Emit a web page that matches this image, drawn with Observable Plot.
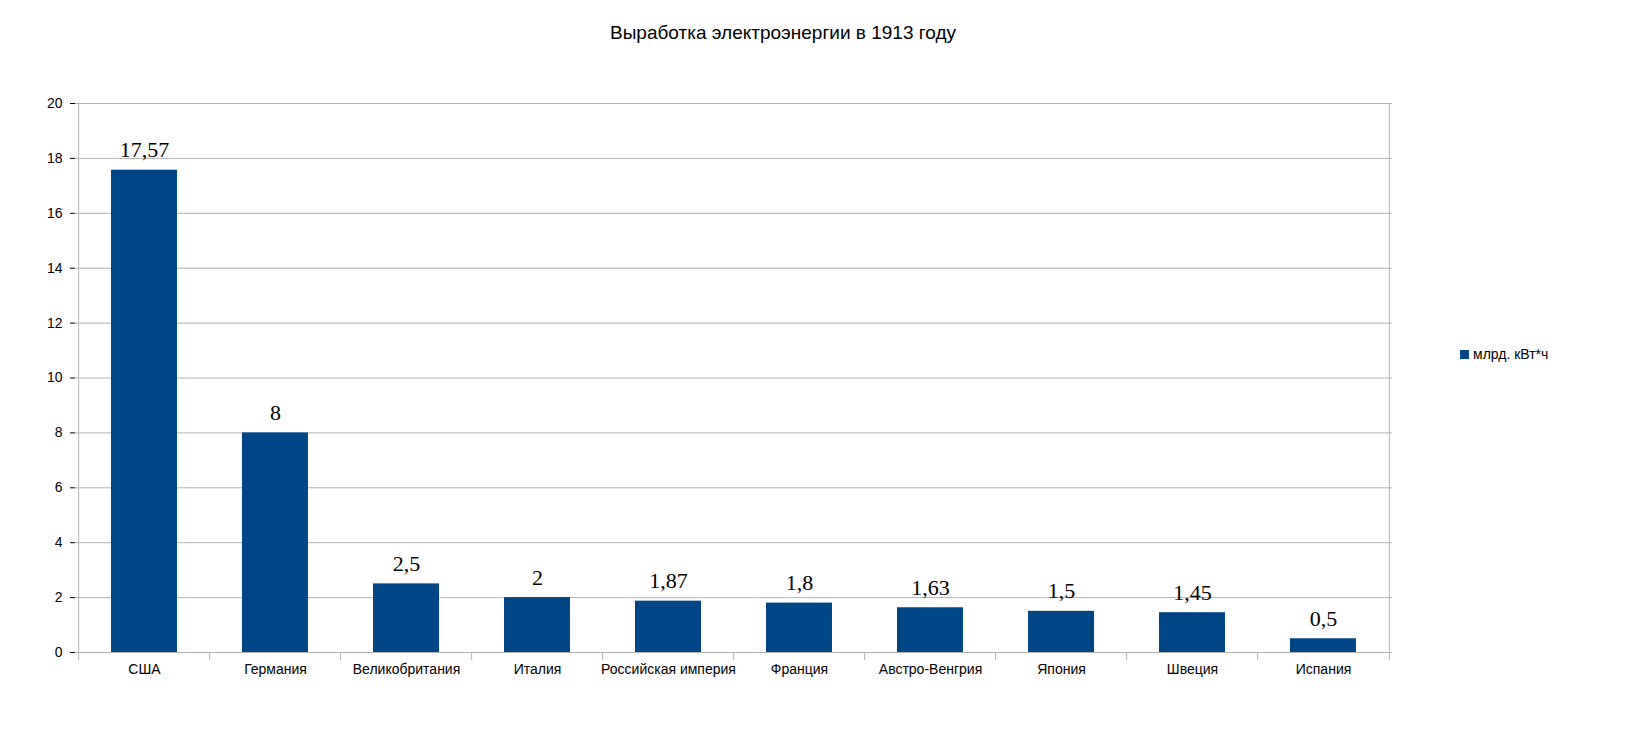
<!DOCTYPE html>
<html><head><meta charset="utf-8">
<script src="https://cdn.jsdelivr.net/npm/d3@7"></script>
<script src="https://cdn.jsdelivr.net/npm/@observablehq/plot@0.6"></script>
<style>
body{margin:0;background:#fff;font-family:"Liberation Sans",Arial,sans-serif;}
#wrap{position:relative;width:1633px;height:742px;}
#title{position:absolute;top:22px;left:0;width:1566px;text-align:center;font-size:19px;color:#000;}
#legend{position:absolute;left:1460px;top:346px;font-size:14px;color:#000;display:flex;align-items:center;}
#legend span.sw{display:inline-block;width:9px;height:9px;background:#004586;margin-right:4px;}
#chart{position:absolute;top:0;left:0;}
</style></head><body>
<div id="wrap">
<div id="title">Выработка электроэнергии в 1913 году</div>
<div id="legend"><span class="sw"></span>млрд. кВт*ч</div>
<div id="chart"></div>
</div>
<script>
const categories = ["США","Германия","Великобритания","Италия","Российская империя","Франция","Австро-Венгрия","Япония","Швеция","Испания"];
const values = [17.57,8,2.5,2,1.87,1.8,1.63,1.5,1.45,0.5];
const labels = ["17,57","8","2,5","2","1,87","1,8","1,63","1,5","1,45","0,5"];
const yTicks = [0,2,4,6,8,10,12,14,16,18,20];

const data = categories.map((c,i)=>({c, v: values[i], l: labels[i]}));
const mL=75, mR=241, W=1633;
const half = (W-mL-mR)/categories.length/2;

const chart = Plot.plot({
  width: W, height: 742,
  marginLeft: mL, marginRight: mR, marginTop: 103, marginBottom: 90,
  style: {fontFamily: '"Liberation Sans",Arial,sans-serif', fontSize: "14px", color:"#000"},
  x: {domain: categories, paddingInner: 0.5, paddingOuter: 0.25, label: null, tickSize: 0, tickPadding: 12},
  y: {domain: [0,20], ticks: yTicks, label: null, tickSize: 5, tickPadding: 8, tickFormat: d=>String(d)},
  marks: [
    Plot.gridY(yTicks, {stroke: "#b3b3b3", strokeOpacity: 1}),
    Plot.ruleX([categories[categories.length-1]], {dx: half, y1: 0, y2: 20, stroke: "#b3b3b3"}),
    Plot.ruleX(categories, {dx: -half, y1: 0, y2: -0.3, stroke: "#b3b3b3"}),
    Plot.ruleX([categories[categories.length-1]], {dx: half, y1: 0, y2: -0.3, stroke: "#b3b3b3"}),
    Plot.barY(data, {x: "c", y: "v", fill: "#004586"}),
    Plot.ruleY([0], {stroke: "#b3b3b3"}),
    Plot.ruleX([categories[0]], {dx: -half, y1: 0, y2: 20, stroke: "#b3b3b3"}),
    Plot.text(data, {x: "c", y: "v", text: "l", dy: -20, fontSize: 22, fontFamily: '"Liberation Serif","Times New Roman",serif', fill: "#000"})
  ]
});
document.getElementById("chart").appendChild(chart);
</script>
</body></html>
